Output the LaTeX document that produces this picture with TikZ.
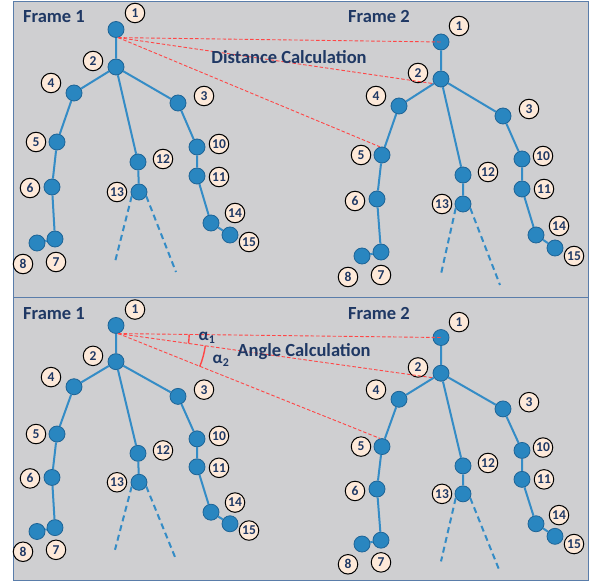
\documentclass[tikz,border=0pt]{standalone}
\usepackage{fontspec}
\setmainfont{Carlito}
\definecolor{bggray}{RGB}{207,207,209}
\definecolor{panelline}{RGB}{90,125,170}
\definecolor{jointblue}{RGB}{41,134,192}
\definecolor{jointedge}{RGB}{30,100,150}
\definecolor{bonecol}{RGB}{52,140,198}
\definecolor{lblfill}{RGB}{253,233,217}
\definecolor{navy}{RGB}{31,56,100}
\definecolor{redline}{RGB}{255,70,70}
\tikzset{
 joint/.style={circle,fill=jointblue,draw=jointedge,line width=0.8pt,minimum size=16pt,inner sep=0pt},
 lbl/.style={circle,fill=lblfill,draw=black,line width=1pt,minimum size=19.5pt,inner sep=0pt,font=\fontsize{13.5}{13.5}\selectfont\bfseries,text=navy},
 bone/.style={draw=bonecol,line width=2pt},
 leg/.style={bone,dash pattern=on 6pt off 4pt},
 ttl/.style={font=\fontsize{18.5}{20}\selectfont\bfseries,text=navy,inner sep=0pt},
 rdash/.style={draw=redline,line width=0.9pt,dash pattern=on 3.5pt off 2pt},
 ang/.style={draw=redline,line width=1.4pt},
 alab/.style={font=\fontsize{17}{17}\selectfont\bfseries,text=navy,inner sep=0pt},
 panel/.style={fill=bggray,draw=panelline,line width=0.8pt},
}
\newcommand\skeleton[1]{%
 \node[ttl] (#1f1) at (54,17) {Frame 1};
 \node[ttl] (#1f2) at (379,17) {Frame 2};
 % Frame 1 joints
 \node[joint] (#1a1) at (116,29.5) {};
 \node[joint] (#1a2) at (116,67) {};
 \node[joint] (#1a4) at (74,93) {};
 \node[joint] (#1a3) at (178,103) {};
 \node[joint] (#1a5) at (57,142) {};
 \node[joint] (#1a6) at (52,187) {};
 \node[joint] (#1a7) at (55,239) {};
 \node[joint] (#1a8) at (37,243) {};
 \node[joint] (#1a12) at (138,162) {};
 \node[joint] (#1a13) at (139,192) {};
 \node[joint] (#1a10) at (197,147) {};
 \node[joint] (#1a11) at (197,176) {};
 \node[joint] (#1a14) at (211,223) {};
 \node[joint] (#1a15) at (230,235) {};
 \coordinate (#1ae1) at (115,262);
 \coordinate (#1ae2) at (176,272);
 \draw[bone] (#1a1)--(#1a2) (#1a2)--(#1a4) (#1a2)--(#1a3) (#1a2)--(#1a12)
   (#1a4)--(#1a5) (#1a5)--(#1a6) (#1a6)--(#1a7) (#1a7)--(#1a8) (#1a12)--(#1a13)
   (#1a3)--(#1a10) (#1a10)--(#1a11) (#1a11)--(#1a14) (#1a14)--(#1a15);
 \draw[leg] (#1a13.210)--(#1ae1);
 \draw[leg] (#1a13.-30)--(#1ae2);
 \node[lbl] (#1la1) at (135,13) {1};
 \node[lbl] (#1la2) at (93,61) {2};
 \node[lbl] (#1la4) at (51,83) {4};
 \node[lbl] (#1la3) at (204,96) {3};
 \node[lbl] (#1la5) at (36,142) {5};
 \node[lbl] (#1la6) at (30,188) {6};
 \node[lbl] (#1la7) at (56,262) {7};
 \node[lbl] (#1la8) at (23,264) {8};
 \node[lbl] (#1la12) at (163,159) {12};
 \node[lbl] (#1la13) at (117,192) {13};
 \node[lbl] (#1la10) at (219,144) {10};
 \node[lbl] (#1la11) at (219,177) {11};
 \node[lbl] (#1la14) at (235,213) {14};
 \node[lbl] (#1la15) at (249,242) {15};
 % Frame 2 joints
 \node[joint] (#1b1) at (441,42) {};
 \node[joint] (#1b2) at (441,79) {};
 \node[joint] (#1b4) at (399,106) {};
 \node[joint] (#1b3) at (503,116) {};
 \node[joint] (#1b5) at (382,155) {};
 \node[joint] (#1b6) at (377,199) {};
 \node[joint] (#1b7) at (381,252) {};
 \node[joint] (#1b8) at (362,256) {};
 \node[joint] (#1b12) at (463,175) {};
 \node[joint] (#1b13) at (463,204) {};
 \node[joint] (#1b10) at (522,159) {};
 \node[joint] (#1b11) at (522,189) {};
 \node[joint] (#1b14) at (536,235) {};
 \node[joint] (#1b15) at (555,248) {};
 \coordinate (#1be1) at (441,274);
 \coordinate (#1be2) at (500,285);
 \draw[bone] (#1b1)--(#1b2) (#1b2)--(#1b4) (#1b2)--(#1b3) (#1b2)--(#1b12)
   (#1b4)--(#1b5) (#1b5)--(#1b6) (#1b6)--(#1b7) (#1b7)--(#1b8) (#1b12)--(#1b13)
   (#1b3)--(#1b10) (#1b10)--(#1b11) (#1b11)--(#1b14) (#1b14)--(#1b15);
 \draw[leg] (#1b13.210)--(#1be1);
 \draw[leg] (#1b13.-30)--(#1be2);
 \node[lbl] (#1lb1) at (459,26) {1};
 \node[lbl] (#1lb2) at (418,73) {2};
 \node[lbl] (#1lb4) at (376,96) {4};
 \node[lbl] (#1lb3) at (529,109) {3};
 \node[lbl] (#1lb5) at (361,155) {5};
 \node[lbl] (#1lb6) at (355,201) {6};
 \node[lbl] (#1lb7) at (381,275) {7};
 \node[lbl] (#1lb8) at (348,277) {8};
 \node[lbl] (#1lb12) at (488,172) {12};
 \node[lbl] (#1lb13) at (442,204) {13};
 \node[lbl] (#1lb10) at (543,156) {10};
 \node[lbl] (#1lb11) at (544,189) {11};
 \node[lbl] (#1lb14) at (559,226) {14};
 \node[lbl] (#1lb15) at (574,256) {15};
 % red dashed connectors
 \coordinate (#1o) at (#1a1.-75);
 \draw[rdash] (#1o)--(#1b1.center);
 \draw[rdash] (#1o)--(#1b2.214);
 \draw[rdash] (#1o)--(#1b5.104);
}
\begin{document}
\begin{tikzpicture}[x=1pt,y=-1pt]
 \useasboundingbox (0,0) rectangle (595,585);
 \fill[white] (0,0) rectangle (595,585);
 \path[panel] (13,1) rectangle (588,297);
 \path[panel] (13,297) rectangle (588,580);
 \skeleton{t}
 \node[ttl] (tdist) at (289,57) {Distance Calculation};
 \begin{scope}[shift={(0,297)},yscale=0.965]
  \skeleton{u}
 \end{scope}
 \node[ttl] (uangle) at (304,352) {Angle Calculation};
 \draw[ang] ([shift={(0.8:71)}]uo) arc[start angle=0.8,end angle=8.0,radius=71];
 \draw[ang] ([shift={(8.0:88)}]uo) arc[start angle=8.0,end angle=22.0,radius=88];
 \node[alab] (al1) at (207,338) {α\textsubscript{1}};
 \node[alab] (al2) at (221,361) {α\textsubscript{2}};
\end{tikzpicture}
\end{document}
